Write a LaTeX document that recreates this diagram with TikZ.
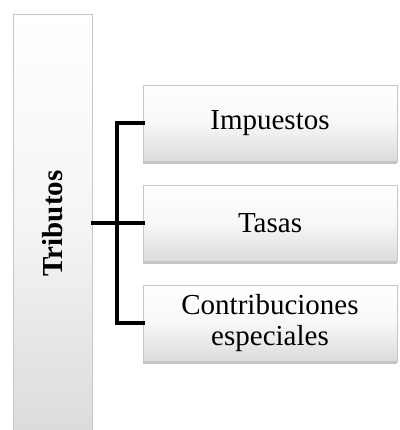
\documentclass[tikz,border=0pt]{standalone}
\usepackage{fontspec}
\setmainfont{Liberation Serif}
\usetikzlibrary{shadows}
\begin{document}
\begin{tikzpicture}[x=1pt,y=1pt,
  box/.style={draw=gray!45, line width=0.8pt, top color=white, bottom color=gray!28,
    middle color=gray!6, rectangle, inner sep=0pt, font=\fontsize{29}{31}\selectfont,
    drop shadow={shadow xshift=0pt, shadow yshift=-3pt, opacity=0.45, fill=gray}},
  conn/.style={line width=4pt, line cap=rect, line join=miter}]
\useasboundingbox (0,0) rectangle (399,-430);
\node[box, minimum width=79, minimum height=418, anchor=north west,
  top color=white, bottom color=gray!28, middle color=gray!8] (trib) at (13,-14)
  {\rotatebox{90}{\bfseries Tributos}};
\node[box, minimum width=254, minimum height=76, align=center] (imp) at (270,-123) {Impuestos};
\node[box, minimum width=254, minimum height=76, align=center] (tas) at (270,-223) {Tasas};
\node[box, minimum width=254, minimum height=76, align=center] (con) at (270,-323)
  {Contribuciones\\especiales};
\coordinate (j) at (117,-223);
\draw[conn] (imp.west) -| (j) |- (con.west);
\draw[conn] (trib.east |- tas.west) -- (tas.west);
\end{tikzpicture}
\end{document}
